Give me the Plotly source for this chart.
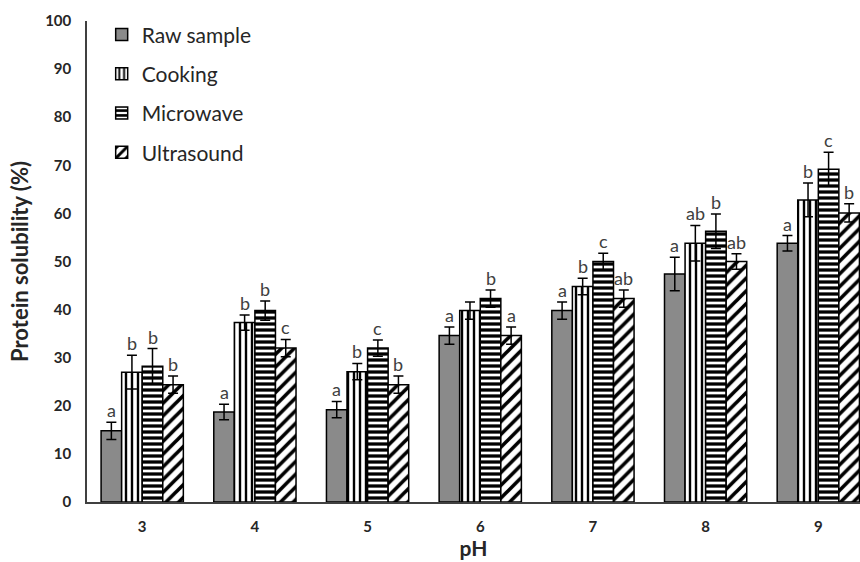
import plotly.graph_objects as go

ph = [3, 4, 5, 6, 7, 8, 9]
series_names = ["Raw sample", "Cooking", "Microwave", "Ultrasound"]

raw = [14.8, 18.7, 19.2, 34.6, 39.8, 47.4, 53.8]
cooking = [27.0, 37.3, 27.1, 39.8, 44.8, 53.8, 62.8]
microwave = [28.2, 39.8, 32.0, 42.3, 50.0, 56.3, 69.2]
ultrasound = [24.4, 32.0, 24.4, 34.6, 42.3, 50.0, 60.1]

raw_err = [1.8, 1.6, 1.7, 1.8, 1.8, 3.5, 1.6]
cooking_err = [3.5, 1.6, 1.7, 1.8, 1.7, 3.7, 3.5]
microwave_err = [3.7, 2.0, 1.7, 1.8, 1.7, 3.6, 3.5]
ultrasound_err = [1.8, 1.8, 1.8, 1.8, 1.8, 1.6, 1.9]

raw_letters = ["a", "a", "a", "a", "a", "a", "a"]
cooking_letters = ["b", "b", "b", "", "b", "ab", "b"]
microwave_letters = ["b", "b", "c", "b", "c", "b", "c"]
ultrasound_letters = ["b", "c", "b", "a", "ab", "ab", "b"]

values = [raw, cooking, microwave, ultrasound]
errors = [raw_err, cooking_err, microwave_err, ultrasound_err]
letters = [raw_letters, cooking_letters, microwave_letters, ultrasound_letters]

FONT = "Lato"
styles = [
    dict(color="#8a8a8a", pattern=dict(shape="")),
    dict(color="white", pattern=dict(shape="|", fgcolor="black", bgcolor="white", fgopacity=1,
                                     size=6, solidity=0.4, fillmode="overlay")),
    dict(color="white", pattern=dict(shape="-", fgcolor="black", bgcolor="white", fgopacity=1,
                                     size=6, solidity=0.55, fillmode="overlay")),
    dict(color="white", pattern=dict(shape="/", fgcolor="black", bgcolor="white", fgopacity=1,
                                     size=9, solidity=0.4, fillmode="overlay")),
]

fig = go.Figure()
for i, name in enumerate(series_names):
    fig.add_trace(go.Bar(
        x=ph, y=values[i], name=name, legendgroup=name,
        marker=dict(color=styles[i]["color"], pattern=styles[i]["pattern"],
                    line=dict(color="black", width=1.5)),
        error_y=dict(type="data", array=errors[i], color="black", thickness=1.5, width=5),
    ))

bargap = 0.27
bw = (1 - bargap) / 4
offsets = [(-1.5 + k) * bw for k in range(4)]
for i in range(4):
    for j, p in enumerate(ph):
        if letters[i][j]:
            fig.add_annotation(
                x=p + offsets[i], y=values[i][j] + errors[i][j], text=letters[i][j],
                showarrow=False, yanchor="bottom", yshift=-1,
                font=dict(family=FONT, size=18, color="#404040"),
            )

fig.update_layout(
    width=860, height=562,
    margin=dict(l=87, r=0, t=21, b=60),
    paper_bgcolor="white", plot_bgcolor="white",
    barmode="group", bargap=bargap, bargroupgap=0,
    showlegend=True,
    legend=dict(x=0.019, y=1.014, xanchor="left", yanchor="top",
                font=dict(family=FONT, size=21, color="#262626"),
                tracegroupgap=9, bgcolor="rgba(0,0,0,0)"),
    xaxis=dict(range=[2.51, 9.37], tickmode="array", tickvals=ph, ticktext=[str(p) for p in ph],
               showline=True, linecolor="#404040", linewidth=1.5, ticks="", showgrid=False,
               zeroline=False, ticklabelstandoff=10, automargin=False,
               tickfont=dict(family=FONT, size=15, color="#262626", weight="bold"),
               title=dict(text="<b>pH</b>", font=dict(family=FONT, size=21, color="#262626"), standoff=8)),
    yaxis=dict(range=[0, 100], tickmode="linear", dtick=10, showline=True, linecolor="#404040",
               linewidth=1.5, ticks="", showgrid=False, zeroline=False, ticklabelstandoff=11,
               automargin=False,
               tickfont=dict(family=FONT, size=15, color="#262626", weight="bold"),
               title=dict(text="<b>Protein solubility (%)</b>", font=dict(family=FONT, size=22, color="#262626"), standoff=10)),
)

fig.write_html(
    "out.html",
    config={"displayModeBar": False},
    post_script="document.body.style.margin='0';document.body.style.overflow='hidden';"
                "document.documentElement.style.overflow='hidden';",
)
